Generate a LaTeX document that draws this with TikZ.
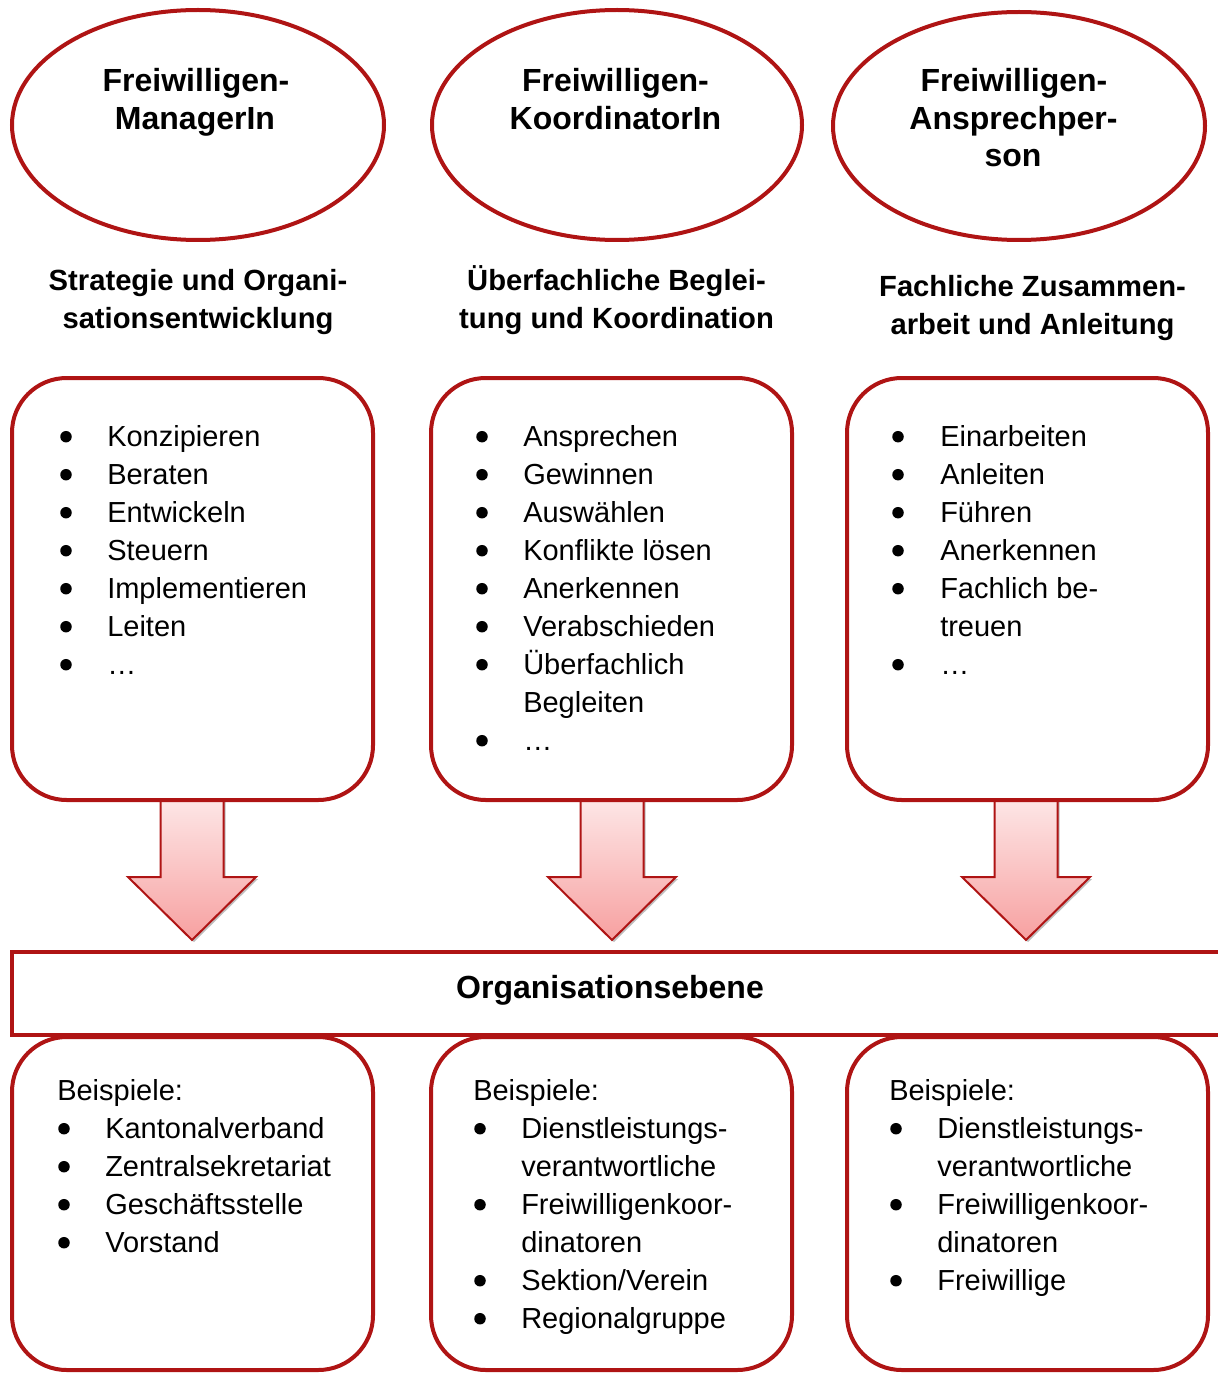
\documentclass[tikz,border=0pt]{standalone}
\usepackage{fontspec}
\setmainfont{Liberation Sans}
\usetikzlibrary{shapes.geometric,calc,shadows}
\definecolor{dred}{RGB}{175,20,20}
\definecolor{atop}{RGB}{253,230,230}
\definecolor{abot}{RGB}{247,160,160}
\newcommand\itemlist[5]{%
  \foreach \flag/\itm [count=\i from 0] in {#5} {%
    \pgfmathsetmacro\yy{#4+38*\i}%
    \node[body, anchor=base west] (#1t\i) at (#3,\yy) {\itm};%
    \ifnum\flag=1 \node[bulletdot] (#1b\i) at (#2,\yy-9.3) {};\fi
  }}
\begin{document}
\begin{tikzpicture}[x=0.75pt,y=-0.75pt,
  ell/.style={ellipse, draw=dred, line width=3pt, inner sep=0pt},
  rbox/.style={rectangle, rounded corners=41pt, draw=dred, line width=3pt, minimum width=361*0.75pt, inner sep=0pt},
  body/.style={inner sep=0pt, font=\fontsize{21.75pt}{28.5pt}\selectfont},
  bulletdot/.style={circle, fill=black, inner sep=0pt, minimum size=11.5*0.75pt},
  btitle/.style={inner sep=0pt, font=\bfseries\fontsize{24pt}{28pt}\selectfont, anchor=base},
  stitle/.style={inner sep=0pt, font=\bfseries\fontsize{21.9pt}{28pt}\selectfont, anchor=base},
  barrow/.style={draw=dred, line width=1.5pt, top color=atop, bottom color=abot, line join=miter,
    drop shadow={opacity=0.25, shadow xshift=1.5pt, shadow yshift=-1.5pt, fill=black}}
]
\useasboundingbox (0,0) rectangle (1217,1373);

% ellipses
\node[ell, minimum width=372*0.75pt, minimum height=230*0.75pt] (e1) at (198,125) {};
\node[ell, minimum width=370*0.75pt, minimum height=230*0.75pt] (e2) at (617,125) {};
\node[ell, minimum width=372*0.75pt, minimum height=228*0.75pt] (e3) at (1019,126) {};
\node[btitle] (e1a) at (196,92) {Freiwilligen-};
\node[btitle] (e1b) at (195,129.5) {ManagerIn};
\node[btitle] (e2a) at (615.5,92) {Freiwilligen-};
\node[btitle] (e2b) at (615.5,129.5) {KoordinatorIn};
\node[btitle] (e3a) at (1014,92) {Freiwilligen-};
\node[btitle] (e3b) at (1013.5,129.5) {Ansprechper-};
\node[btitle] (e3c) at (1013,167) {son};

% subtitles
\node[stitle] (s1a) at (198,290) {Strategie und Organi-};
\node[stitle] (s1b) at (198,328) {sationsentwicklung};
\node[stitle] (s2a) at (616.5,290) {Überfachliche Beglei-};
\node[stitle] (s2b) at (616.5,328) {tung und Koordination};
\node[stitle] (s3a) at (1032.5,296) {Fachliche Zusammen-};
\node[stitle] (s3b) at (1032.5,334) {arbeit und Anleitung};

% arrows
\foreach \cx in {192,612,1026} {
  \path[barrow] (\cx-31.5,800) -- (\cx-31.5,877) -- (\cx-64,877) -- (\cx,940)
    -- (\cx+64,877) -- (\cx+31.5,877) -- (\cx+31.5,800) -- cycle;
}

% upper boxes
\node[rbox, minimum height=422*0.75pt] (b1) at (192.5,589) {};
\node[rbox, minimum height=422*0.75pt] (b2) at (611.5,589) {};
\node[rbox, minimum height=422*0.75pt] (b3) at (1027.5,589) {};

\itemlist{l1}{66}{107}{446}{1/Konzipieren,1/Beraten,1/Entwickeln,1/Steuern,1/Implementieren,1/Leiten,1/…}
\itemlist{l2}{482}{523}{446}{1/Ansprechen,1/Gewinnen,1/Auswählen,1/Konflikte lösen,1/Anerkennen,1/Verabschieden,1/Überfachlich,0/Begleiten,1/…}
\itemlist{l3}{898}{940}{446}{1/Einarbeiten,1/Anleiten,1/Führen,1/Anerkennen,1/Fachlich be-,0/treuen,1/…}

% organisation level
\node[rectangle, draw=dred, line width=3pt, minimum width=1210*0.75pt, minimum height=83*0.75pt, inner sep=0pt] (org) at (617,993.5) {};
\node[btitle] (orgt) at (610,998.5) {Organisationsebene};

% lower boxes
\node[rbox, minimum height=333*0.75pt] (b4) at (192.5,1203.5) {};
\node[rbox, minimum height=333*0.75pt] (b5) at (611.5,1203.5) {};
\node[rbox, minimum height=333*0.75pt] (b6) at (1027.5,1203.5) {};

\node[body, anchor=base west] (bsp4) at (57,1100) {Beispiele:};
\node[body, anchor=base west] (bsp5) at (473,1100) {Beispiele:};
\node[body, anchor=base west] (bsp6) at (889,1100) {Beispiele:};
\itemlist{l4}{64}{105}{1138}{1/Kantonalverband,1/Zentralsekretariat,1/Geschäftsstelle,1/Vorstand}
\itemlist{l5}{480}{521}{1138}{1/Dienstleistungs-,0/verantwortliche,1/Freiwilligenkoor-,0/dinatoren,1/{Sektion/Verein},1/Regionalgruppe}
\itemlist{l6}{896}{937}{1138}{1/Dienstleistungs-,0/verantwortliche,1/Freiwilligenkoor-,0/dinatoren,1/Freiwillige}
\end{tikzpicture}
\end{document}
